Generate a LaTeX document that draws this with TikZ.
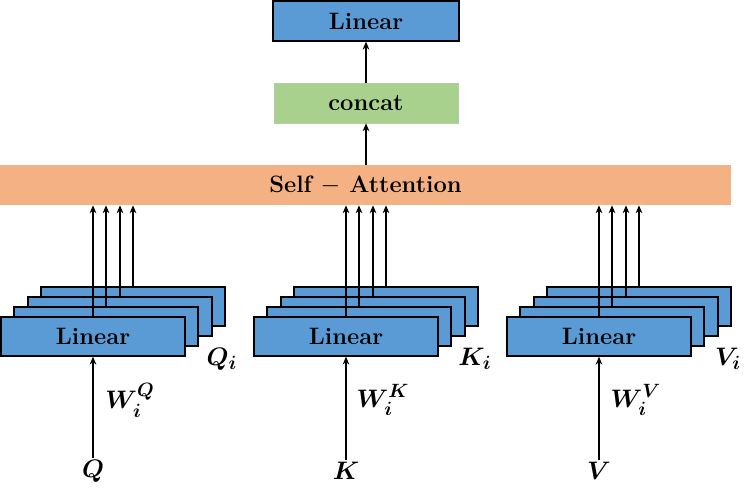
\documentclass[tikz,border=0pt]{standalone}
\usepackage{bm}
\usepackage{amsmath}
\usetikzlibrary{arrows.meta}
\usetikzlibrary{positioning, calc}

\definecolor{linblue}{HTML}{5B9BD5}
\definecolor{catgreen}{HTML}{A9D18E}
\definecolor{attorange}{HTML}{F4B183}

\begin{document}
\begin{tikzpicture}[>={Stealth[length=4.5pt, width=3.8pt]}, x=0.02cm, y=-0.02cm,
    txt/.style={font=\fontsize{13.5}{15}\selectfont\bfseries},
    linbox/.style={txt, draw=black, thick, fill=linblue, inner sep=0pt,
        minimum width=3.68cm, minimum height=0.78cm},
    catbox/.style={txt, draw=catgreen!80!black!60, fill=catgreen, inner sep=0pt,
        minimum width=3.68cm, minimum height=0.8cm},
    attbar/.style={txt, fill=attorange, inner sep=0pt,
        minimum width=14.62cm, minimum height=0.8cm},
    lab/.style={font=\fontsize{15}{17}\selectfont},
    arr/.style={->, line width=0.75pt}]
    \useasboundingbox (0, 0) rectangle (753, 496);

    % top part
    \node[linbox, minimum width=3.72cm, minimum height=0.8cm] (top) at (366, 21) {Linear};
    \node[catbox] (cat) at (366, 103) {concat};
    \node[attbar] (sa) at (365.5, 185) {Self $-$ Attention};

    \draw[arr] (cat.north) -- (top.south);
    \draw[arr] (sa.north -| cat.north) -- (cat.south);

    % the three stacks of linear maps
    \foreach \g/\off/\in/\out in {q/0/Q/Q, k/253/K/K, v/506/V/V} {
        \foreach \i/\dx in {3/40, 2/27, 1/13} {
            \node[linbox] (lin-\g-\i) at (\off + 93 + \dx, 336.5 - 10*\i) {};
        }
        \node[linbox] (lin-\g-0) at (\off + 93, 336.5) {Linear};
        \foreach \i in {0, 1, 2, 3} {
            \draw[arr] (lin-\g-\i.north) -- (lin-\g-\i.north |- sa.south);
        }
        \node[lab, inner sep=1pt] (in-\g) at (\off + 93, 471) {$\bm{\in}$};
        \node[lab] (w-\g) at (\off + 130, 400) {$\bm{W_i^{\in}}$};
        \node[lab] (out-\g) at (\off + 222, 359) {$\bm{\out_i}$};
        \draw[arr] (in-\g.north) -- (lin-\g-0.south -| in-\g.north);
    }
\end{tikzpicture}
\end{document}
